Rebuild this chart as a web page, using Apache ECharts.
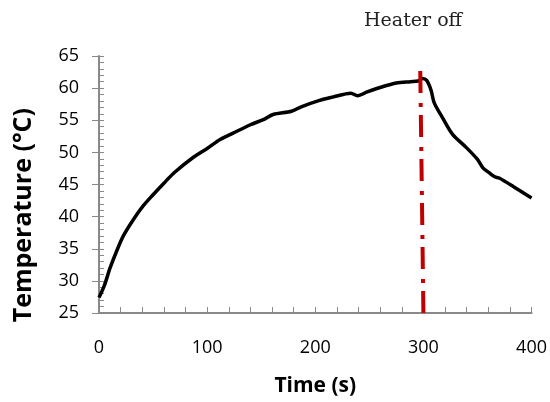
<!DOCTYPE html>
<html>
<head>
<meta charset="utf-8">
<script src="https://cdn.jsdelivr.net/npm/echarts@6/dist/echarts.min.js"></script>
<style>
  html, body { margin: 0; padding: 0; background: #fff; }
  #chart { width: 550px; height: 402px; }
</style>
</head>
<body>
<div id="chart"></div>
<script>
// time (s) and temperature (°C)
var times = [0, 5, 10, 16, 22.5, 32, 41, 50, 60, 70, 87, 100, 112, 124, 140, 152, 161, 178, 187, 204, 216, 233, 239, 248, 260, 275, 288, 295, 299, 303, 307, 310, 318, 327, 340, 350, 355, 361, 366, 370, 383, 400];
var temps = [27.4, 29.3, 31.9, 34.5, 37.0, 39.6, 41.7, 43.4, 45.2, 46.9, 49.2, 50.6, 52.0, 53.0, 54.3, 55.1, 55.9, 56.4, 57.1, 58.1, 58.6, 59.2, 58.8, 59.4, 60.1, 60.8, 61.0, 61.1, 61.5, 61.2, 59.7, 57.7, 55.3, 52.8, 50.7, 48.9, 47.6, 46.8, 46.2, 46.0, 44.7, 42.9];
// heater switched off marker (top/bottom of the dash-dot line)
var heaterOffTime = [297, 300];
var heaterOffTemp = [63.8, 25];
var heaterLabel = "Heater off";
var xLabelStep = 100;

var chart = echarts.init(document.getElementById("chart"));

var axisGray = "#898989";

chart.setOption({
  animation: false,
  grid: { left: 99, right: 18, top: 56, bottom: 88 },
  xAxis: {
    type: "value",
    min: 0,
    max: 400,
    interval: 20,
    name: "Time (s)",
    nameLocation: "middle",
    nameGap: 63,
    nameTextStyle: { fontFamily: "Open Sans", fontWeight: "bold", fontSize: 21, color: "#000" },
    axisLine: { lineStyle: { color: axisGray, width: 2 } },
    axisTick: { show: true, inside: true, length: 6, lineStyle: { color: axisGray } },
    axisLabel: {
      fontFamily: "Open Sans",
      fontSize: 18,
      color: "#000",
      margin: 26,
      formatter: function (v) { return v % xLabelStep === 0 ? String(v) : ""; }
    },
    splitLine: { show: false }
  },
  yAxis: [
    {
      type: "value",
      min: 25,
      max: 65,
      interval: 5,
      axisLine: { show: true, lineStyle: { color: axisGray, width: 2 } },
      axisTick: { show: true, length: 7, lineStyle: { color: axisGray } },
      axisLabel: { fontFamily: "Open Sans", fontSize: 18, color: "#000", margin: 20 },
      splitLine: { show: false }
    },
    {
      type: "value",
      position: "left",
      min: 25,
      max: 65,
      interval: 1,
      axisLine: { show: false },
      axisTick: { show: true, inside: true, length: 5, lineStyle: { color: axisGray } },
      axisLabel: { show: false },
      splitLine: { show: false }
    }
  ],
  graphic: [
    {
      type: "text",
      left: 11,
      top: 108,
      rotation: Math.PI / 2,
      style: {
        text: "Temperature (°C)",
        font: "bold 25px 'Open Sans'",
        fill: "#000"
      }
    },
    {
      type: "text",
      left: 364,
      top: 12,
      style: {
        text: heaterLabel,
        font: "19px 'DejaVu Serif'",
        fill: "#222"
      }
    }
  ],
  series: [
    {
      type: "line",
      data: times.map(function (t, i) { return [t, temps[i]]; }),
      showSymbol: false,
      smooth: 0.3,
      lineStyle: { color: "#000", width: 3.5 },
      markLine: {
        silent: true,
        symbol: "none",
        label: { show: false },
        lineStyle: { color: "#c00000", width: 4, type: [22, 8, 4, 10] },
        data: [[
          { coord: [heaterOffTime[1], heaterOffTemp[1]] },
          { coord: [heaterOffTime[0], heaterOffTemp[0]] }
        ]]
      }
    }
  ]
});
</script>
</body>
</html>
